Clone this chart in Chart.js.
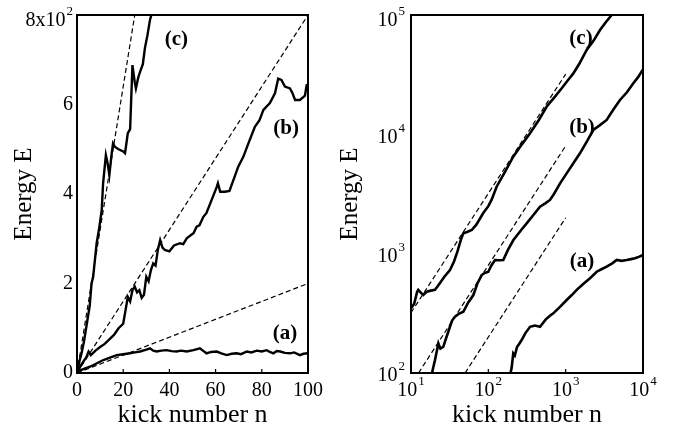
<!DOCTYPE html>
<html>
<head>
<meta charset="utf-8">
<script src="https://cdn.jsdelivr.net/npm/chart.js@4"></script>
<style>
  html, body { margin: 0; padding: 0; background: #fff; }
  #wrap { position: relative; width: 678px; height: 427px; }
  canvas { position: absolute; top: 0; }
  #left { left: 0; }
  #right { left: 340px; }
</style>
</head>
<body>
<div id="wrap">
  <canvas id="left" width="340" height="427"></canvas>
  <canvas id="right" width="338" height="427"></canvas>
</div>
<script>
'use strict';

// ── Data: linear panel (kick number n, energy E) ──────────────
const LIN_X_TICKS = [0, 20, 40, 60, 80, 100];
const LIN_Y_TICKS = [0, 200, 400, 600, 800];
const LIN_Y_LABELS = ['0', '2', '4', '6', '8x10^2'];

const LIN_A = [[0,3],[3,9],[5.6,14],[8,20],[11.4,29],[14,34],[17.2,40],[20,42],[22.9,44],[25,46],[27.3,48],
  [30,52],[31.6,55],[33,50],[34.5,48],[36.5,50],[38.8,51],[41,49],[43.1,48],[45,50],[47.5,48],[50.4,51],
  [53.2,55],[54.5,50],[56.1,44],[58,47],[60.5,48],[62.5,44],[64.8,40],[67,43],[69.1,44],[71,42],[73.5,48],
  [75.5,46],[77.8,50],[80,48],[82.1,51],[83.5,47],[85,44],[86.5,49],[88,48],[90,45],[92.2,44],[94,46],
  [96.5,40],[98,43],[100,44]];
const LIN_B = [[0,0],[2,20],[4,35],[5,48],[6,40],[8,50],[10,58],[12,65],[14,75],[16,85],[18,100],[20,110],
  [21,140],[22,170],[23,160],[24,185],[25,193],[26,180],[27,185],[28,168],[29,175],[30,215],[31,205],[32,230],
  [33,245],[34,240],[35,275],[36,297],[37,280],[38,275],[40,272],[42,285],[44.6,290],[46,288],[47.5,301],
  [50.5,313],[51.8,327],[53,330],[54.7,349],[56,357],[58.3,387],[60.5,416],[61,424],[62,405],[64,405],
  [66,407],[67.7,431],[69.8,461],[72,483],[74.2,513],[77,550],[79,565],[80.7,588],[83.5,603],[85.7,625],
  [87.1,658],[88.5,655],[90,640],[92.2,636],[93.3,625],[94.4,610],[96.5,610],[98.7,620],[99.4,643],[100,643]];
const LIN_C = [[0,0],[1,25],[2,45],[3,70],[4.5,118],[5.5,150],[6.3,200],[7,215],[8.5,290],[9.5,320],
  [10.7,364],[11.3,424],[12.5,487],[13.2,470],[14,442],[15,490],[15.6,513],[16.5,505],[18,500],[20,495],
  [20.8,491],[22,536],[23,545],[24,688],[25,650],[25.5,636],[26.5,660],[27.3,673],[28.5,690],[29.4,726],
  [30.5,755],[31.6,789],[32.7,810]];
const LIN_FIT_A = [[0,0],[100,200]];
const LIN_FIT_B = [[0,0],[100,800]];
const LIN_FIT_C = [[0,0],[25,800]];
const LIN_TAGS = [['(c)',43,746],['(b)',90.5,547],['(a)',90,87]];

// ── Data: log-log panel ───────────────────────────────────────
const LOG_X_TICKS = [10, 100, 1000, 10000];
const LOG_Y_TICKS = [100, 1000, 10000, 100000];
const LOG_X_LABELS = ['10^1', '10^2', '10^3', '10^4'];
const LOG_Y_LABELS = ['10^2', '10^3', '10^4', '10^5'];

const LOG_A = [[190,95],[200,110],[210,146],[220,140],[235,165],[250,175],[270,189],[300,215],[346,244],
  [400,250],[466,244],[550,280],[620,300],[692,316],[850,360],[1030,409],[1200,450],[1390,497],[1700,560],
  [2065,622],[2520,706],[2900,740],[3390,778],[4000,830],[4570,885],[5300,870],[6150,885],[7000,900],
  [7880,914],[8800,940],[10000,975]];
const LOG_B = [[18.5,95],[19,105],[20.4,128],[22.6,177],[24,160],[26.2,166],[28,190],[31.9,244],[34,275],
  [37,296],[42,315],[47.5,326],[55,390],[64,450],[72,560],[82,662],[90,690],[100,706],[110,800],[122,885],
  [140,880],[156,885],[180,1080],[211,1300],[260,1550],[313,1796],[380,2100],[466,2477],[550,2650],
  [627,2820],[692,3100],[850,3900],[1030,4710],[1250,5700],[1530,6930],[1900,8800],[2280,10900],
  [2800,12000],[3390,13200],[4100,16000],[5040,19400],[6200,22500],[7500,26800],[8600,30000],[10000,35000]];
const LOG_C = [[10,348],[11,380],[12,480],[12.4,497],[13.5,470],[14.4,451],[16,480],[18,490],[20.4,497],
  [22,530],[23.7,567],[27,640],[31.9,730],[36,860],[40,1050],[44,1300],[47.5,1480],[53,1520],[61,1578],
  [70,1750],[86,2190],[100,2500],[110,2820],[128,3640],[160,4700],[210,6500],[270,8200],[346,10200],
  [450,13200],[569,17100],[728,20700],[889,24300],[1050,28000],[1257,32400],[1500,39000],[1870,50900],
  [2300,61000],[2780,74800],[3300,87000],[3940,100000],[4200,105000]];
const LOG_FIT_A = [[50,100],[1000,2000]];
const LOG_FIT_B = [[12.5,100],[1000,8000]];
const LOG_FIT_C = [[10,320],[1000,32000]];
const LOG_TAGS = [['(c)',1578,63000],['(b)',1625,11300],['(a)',1625,851]];

// ── Helpers ───────────────────────────────────────────────────
const SERIF = '"Liberation Serif", "Times New Roman", serif';
const pts = (arr) => arr.map(([x, y]) => ({ x, y }));

const solid = (arr, w) => ({ data: pts(arr), borderColor: '#000', borderWidth: w, pointRadius: 0, fill: false });
const dashed = (arr) => ({ data: pts(arr), borderColor: '#000', borderWidth: 1.2, borderDash: [5, 3], pointRadius: 0, fill: false });

// label like "10^3" -> base + raised exponent
function drawLabel(ctx, text, x, y, align) {
  const [base, exp] = text.split('^');
  ctx.font = `20px ${SERIF}`;
  const wb = ctx.measureText(base).width;
  ctx.font = `13px ${SERIF}`;
  const we = exp ? ctx.measureText(exp).width + 1 : 0;
  const total = wb + we;
  let sx = align === 'right' ? x - total : x - total / 2;
  ctx.textAlign = 'left';
  ctx.textBaseline = 'middle';
  ctx.font = `20px ${SERIF}`;
  ctx.fillText(base, sx, y);
  if (exp) {
    ctx.font = `13px ${SERIF}`;
    ctx.fillText(exp, sx + wb + 1, y - 9);
  }
}

// ── Axes / frame plugin ───────────────────────────────────────
const framePlugin = {
  id: 'frame',
  afterDatasetsDraw(chart, args, o) {
    const { ctx, chartArea: a, scales: { x, y } } = chart;
    ctx.save();
    ctx.fillStyle = '#000';
    ctx.strokeStyle = '#000';
    ctx.lineWidth = 2;
    ctx.strokeRect(a.left, a.top, a.right - a.left, a.bottom - a.top);

    // inward ticks on bottom axis
    ctx.lineWidth = 1.2;
    o.xTicks.forEach(v => {
      const px = x.getPixelForValue(v);
      ctx.beginPath(); ctx.moveTo(px, a.bottom); ctx.lineTo(px, a.bottom - 4); ctx.stroke();
    });

    // tick labels
    o.xTicks.forEach((v, i) => drawLabel(ctx, o.xLabels[i], x.getPixelForValue(v), a.bottom + 18, 'center'));
    o.yTicks.forEach((v, i) => {
      const py = y.getPixelForValue(v);
      const isTop = i === o.yTicks.length - 1;
      drawLabel(ctx, o.yLabels[i], a.left - o.yGap, py + (isTop ? 6 : o.yShift), 'right');
    });

    // axis titles
    ctx.textAlign = 'center';
    ctx.textBaseline = 'middle';
    ctx.font = `26px ${SERIF}`;
    ctx.fillText('kick number n', (a.left + a.right) / 2, a.bottom + 42);
    ctx.font = `25px ${SERIF}`;
    ctx.save();
    ctx.translate(o.titleX, (a.top + a.bottom) / 2);
    ctx.rotate(-Math.PI / 2);
    ctx.fillText('Energy E', 0, 0);
    ctx.restore();

    // curve tags
    ctx.font = `bold 21px ${SERIF}`;
    o.tags.forEach(([t, vx, vy]) => ctx.fillText(t, x.getPixelForValue(vx), y.getPixelForValue(vy)));
    ctx.restore();
  }
};

function makeChart(id, cfg) {
  return new Chart(document.getElementById(id), {
    type: 'line',
    data: { datasets: cfg.datasets },
    options: {
      responsive: false,
      animation: false,
      layout: { padding: cfg.padding },
      scales: {
        x: { type: cfg.type, min: cfg.xMin, max: cfg.xMax, display: false },
        y: { type: cfg.type, min: cfg.yMin, max: cfg.yMax, display: false }
      },
      plugins: { legend: { display: false }, tooltip: { enabled: false }, frame: cfg.frame }
    },
    plugins: [framePlugin]
  });
}

// ── Left: linear ──────────────────────────────────────────────
makeChart('left', {
  type: 'linear', xMin: 0, xMax: 100, yMin: 0, yMax: 800,
  padding: { left: 77, right: 32, top: 15, bottom: 54 },
  datasets: [
    dashed(LIN_FIT_A), dashed(LIN_FIT_B), dashed(LIN_FIT_C),
    solid(LIN_A, 2.4), solid(LIN_B, 2.4), solid(LIN_C, 2.4)
  ],
  frame: {
    xTicks: LIN_X_TICKS, xLabels: LIN_X_TICKS.map(String),
    yTicks: LIN_Y_TICKS, yLabels: LIN_Y_LABELS,
    yGap: 4, yShift: 0, titleX: 24, tags: LIN_TAGS
  }
});

// ── Right: log-log ────────────────────────────────────────────
makeChart('right', {
  type: 'logarithmic', xMin: 10, xMax: 10000, yMin: 100, yMax: 100000,
  padding: { left: 71, right: 35, top: 15, bottom: 54 },
  datasets: [
    dashed(LOG_FIT_A), dashed(LOG_FIT_B), dashed(LOG_FIT_C),
    solid(LOG_A, 2.6), solid(LOG_B, 2.6), solid(LOG_C, 2.6)
  ],
  frame: {
    xTicks: LOG_X_TICKS, xLabels: LOG_X_LABELS,
    yTicks: LOG_Y_TICKS, yLabels: LOG_Y_LABELS,
    yGap: 6, yShift: 3, titleX: 10, tags: LOG_TAGS
  }
});
</script>
</body>
</html>
